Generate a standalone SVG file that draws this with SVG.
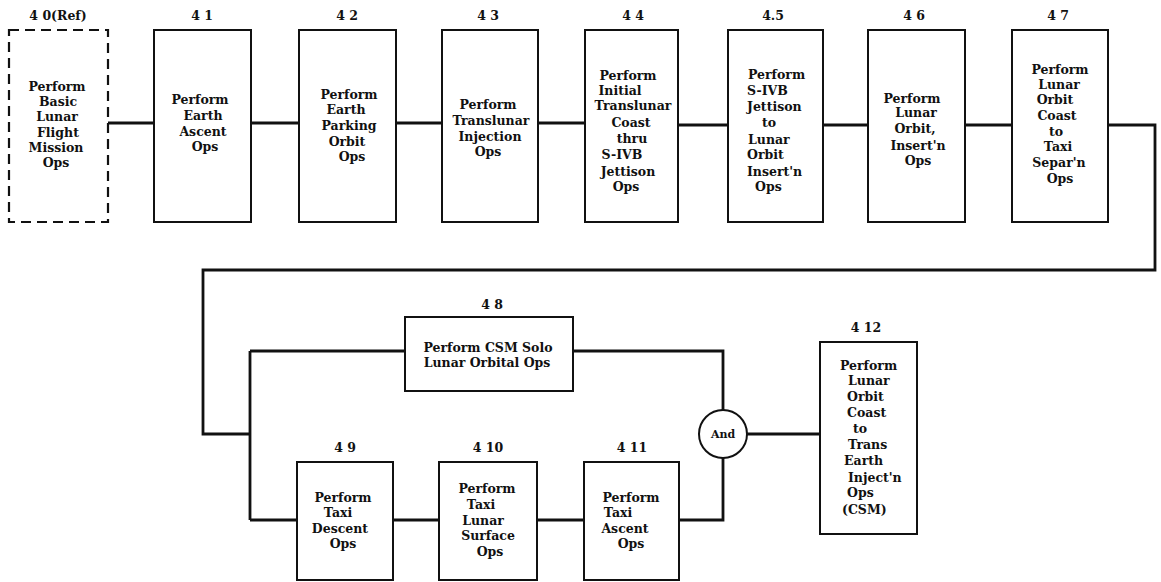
<svg xmlns="http://www.w3.org/2000/svg" width="1161" height="582" viewBox="0 0 1161 582">
<style>
.box{fill:#fff;stroke:#111;stroke-width:2}
.ref{fill:#fff;stroke:#111;stroke-width:2.2;stroke-dasharray:10 6}
.t{font-family:"DejaVu Serif","Liberation Serif",serif;font-weight:bold;font-size:12.5px;fill:#111;text-anchor:middle}
.s{text-anchor:start}
.n{font-family:"DejaVu Serif","Liberation Serif",serif;font-weight:bold;font-size:12.5px;fill:#111;text-anchor:middle}
.c{fill:none;stroke:#111;stroke-width:2.8;stroke-linejoin:miter}
</style>
<rect width="1161" height="582" fill="#fff"/>
<g id="connectors">
<path class="c" d="M108 123H154M251 123H299M396 123H442M538 123H585M678 125H728M823 125H868M965 125H1012"/>
<path class="c" d="M1108 125H1155V270H203V434H250"/>
<path class="c" d="M250 351V520M250 351H405M250 520H297M393 520H439M537 520H584"/>
<path class="c" d="M679 520H723V458M573 351H723V410M747 434H820"/>
</g>
<g id="n40">
<text class="n" x="58" y="20">4 0(Ref)</text>
<rect class="ref" x="9" y="30" width="99" height="192"/>
<text class="t" x="57"><tspan x="57" y="91">Perform</tspan><tspan x="58" y="106">Basic</tspan><tspan x="57" y="121">Lunar</tspan><tspan x="58" y="137">Flight</tspan><tspan x="56" y="152">Mission</tspan><tspan x="56" y="167">Ops</tspan></text>
</g>
<g id="n41">
<text class="n" x="202" y="20">4 1</text>
<rect class="box" x="154" y="30" width="97" height="192"/>
<text class="t"><tspan x="200" y="104">Perform</tspan><tspan x="203" y="120">Earth</tspan><tspan x="203" y="136">Ascent</tspan><tspan x="205" y="151">Ops</tspan></text>
</g>
<g id="n42">
<text class="n" x="347" y="20">4 2</text>
<rect class="box" x="299" y="30" width="97" height="192"/>
<text class="t"><tspan x="349" y="99">Perform</tspan><tspan x="346" y="114">Earth</tspan><tspan x="349" y="130">Parking</tspan><tspan x="347" y="146">Orbit</tspan><tspan x="352" y="161">Ops</tspan></text>
</g>
<g id="n43">
<text class="n" x="488" y="20">4 3</text>
<rect class="box" x="442" y="30" width="96" height="192"/>
<text class="t"><tspan x="488" y="109">Perform</tspan><tspan x="491" y="125">Translunar</tspan><tspan x="490" y="141">Injection</tspan><tspan x="488" y="156">Ops</tspan></text>
</g>
<g id="n44">
<text class="n" x="633" y="20">4 4</text>
<rect class="box" x="585" y="30" width="93" height="192"/>
<text class="t"><tspan x="628" y="80">Perform</tspan><tspan x="620" y="95">Initial</tspan><tspan x="633" y="110">Translunar</tspan><tspan x="631" y="127">Coast</tspan><tspan x="632" y="143">thru</tspan><tspan x="622" y="159">S-IVB</tspan><tspan x="628" y="176">Jettison</tspan><tspan x="626" y="191">Ops</tspan></text>
</g>
<g id="n45">
<text class="n" x="773" y="20">4.5</text>
<rect class="box" x="728" y="30" width="95" height="192"/>
<text class="t s"><tspan x="748" y="79">Perform</tspan><tspan x="747" y="95">S-IVB</tspan><tspan x="747" y="111">Jettison</tspan><tspan x="762" y="127">to</tspan><tspan x="748" y="144">Lunar</tspan><tspan x="747" y="159">Orbit</tspan><tspan x="747" y="176">Insert'n</tspan><tspan x="755" y="191">Ops</tspan></text>
</g>
<g id="n46">
<text class="n" x="914" y="20">4 6</text>
<rect class="box" x="868" y="30" width="97" height="192"/>
<text class="t"><tspan x="912" y="103">Perform</tspan><tspan x="916" y="117">Lunar</tspan><tspan x="915" y="133">Orbit,</tspan><tspan x="918" y="150">Insert'n</tspan><tspan x="918" y="165">Ops</tspan></text>
</g>
<g id="n47">
<text class="n" x="1058" y="20">4 7</text>
<rect class="box" x="1012" y="30" width="96" height="192"/>
<text class="t"><tspan x="1060" y="74">Perform</tspan><tspan x="1059" y="89">Lunar</tspan><tspan x="1055" y="104">Orbit</tspan><tspan x="1057" y="120">Coast</tspan><tspan x="1056" y="136">to</tspan><tspan x="1058" y="151">Taxi</tspan><tspan x="1059" y="167">Separ'n</tspan><tspan x="1060" y="183">Ops</tspan></text>
</g>
<g id="n48">
<text class="n" x="492" y="309">4 8</text>
<rect class="box" x="405" y="317" width="168" height="74"/>
<text class="t"><tspan x="488" y="352">Perform CSM Solo</tspan><tspan x="487" y="367">Lunar Orbital Ops</tspan></text>
</g>
<g id="n49">
<text class="n" x="345" y="452">4 9</text>
<rect class="box" x="297" y="462" width="96" height="118"/>
<text class="t"><tspan x="343" y="502">Perform</tspan><tspan x="338" y="517">Taxi</tspan><tspan x="340" y="533">Descent</tspan><tspan x="343" y="548">Ops</tspan></text>
</g>
<g id="n410">
<text class="n" x="488" y="452">4 10</text>
<rect class="box" x="439" y="462" width="98" height="118"/>
<text class="t"><tspan x="487" y="493">Perform</tspan><tspan x="481" y="509">Taxi</tspan><tspan x="483" y="525">Lunar</tspan><tspan x="488" y="540">Surface</tspan><tspan x="490" y="556">Ops</tspan></text>
</g>
<g id="n411">
<text class="n" x="632" y="452">4 11</text>
<rect class="box" x="584" y="462" width="95" height="118"/>
<text class="t"><tspan x="631" y="502">Perform</tspan><tspan x="618" y="517">Taxi</tspan><tspan x="625" y="533">Ascent</tspan><tspan x="631" y="548">Ops</tspan></text>
</g>
<g id="and">
<circle cx="723" cy="434" r="24" fill="#fff" stroke="#111" stroke-width="2"/>
<text class="t" x="723" y="438" style="font-size:11px">And</text>
</g>
<g id="n412">
<text class="n" x="866" y="332">4 12</text>
<rect class="box" x="820" y="342" width="97" height="192"/>
<text class="t s"><tspan x="840" y="370">Perform</tspan><tspan x="848" y="385">Lunar</tspan><tspan x="847" y="401">Orbit</tspan><tspan x="847" y="417">Coast</tspan><tspan x="853" y="433">to</tspan><tspan x="848" y="449">Trans</tspan><tspan x="844" y="465">Earth</tspan><tspan x="848" y="482">Inject'n</tspan><tspan x="847" y="497">Ops</tspan><tspan x="842" y="514">(CSM)</tspan></text>
</g>
</svg>
